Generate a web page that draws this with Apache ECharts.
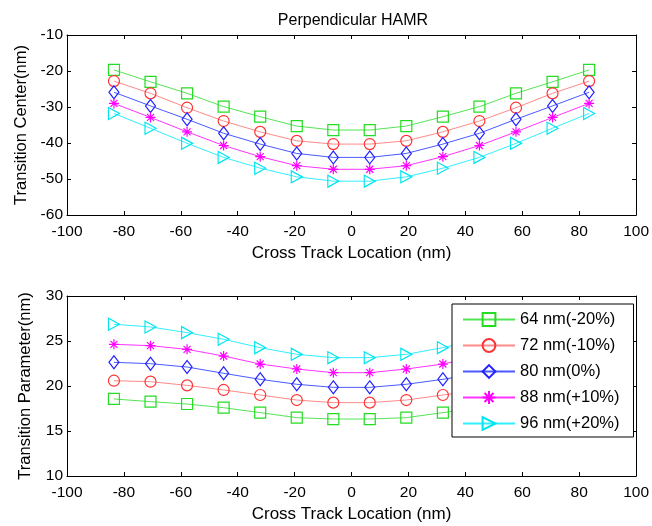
<!DOCTYPE html>
<html><head><meta charset="utf-8">
<script src="https://cdn.jsdelivr.net/npm/echarts@6/dist/echarts.min.js"></script>
<style>html,body{margin:0;padding:0;background:#fff}#c{width:652px;height:526px}</style>
</head><body><div id="c"></div>
<script>
const xs = [-83.5,-70.65,-57.8,-44.95,-32.1,-19.25,-6.4,6.4,19.25,32.1,44.95,57.8,70.65,83.5];
const names = ['64 nm(-20%)','72 nm(-10%)','80 nm(0%)','88 nm(+10%)','96 nm(+20%)'];
const center64 = [-19.7,-23.0,-26.2,-29.9,-32.7,-35.3,-36.4,-36.4,-35.3,-32.7,-29.9,-26.2,-23.0,-19.7];
const center72 = [-22.8,-26.2,-30.2,-33.9,-36.9,-39.4,-40.3,-40.3,-39.4,-36.9,-33.9,-30.2,-26.2,-22.8];
const center80 = [-25.9,-29.7,-33.4,-37.3,-40.3,-42.9,-44.0,-44.0,-42.9,-40.3,-37.3,-33.4,-29.7,-25.9];
const center88 = [-29.0,-32.9,-36.9,-40.7,-43.8,-46.3,-47.3,-47.3,-46.3,-43.8,-40.7,-36.9,-32.9,-29.0];
const center96 = [-31.8,-35.9,-40.1,-44.0,-47.0,-49.4,-50.6,-50.6,-49.4,-47.0,-44.0,-40.1,-35.9,-31.8];
const param64 = [18.56,18.26,18.0,17.59,17.04,16.48,16.33,16.33,16.48,17.04,17.59,18.0,18.26,18.56];
const param72 = [20.59,20.48,20.07,19.56,19.0,18.44,18.15,18.15,18.44,19.0,19.56,20.07,20.48,20.59];
const param80 = [22.63,22.48,22.11,21.41,20.74,20.19,19.85,19.85,20.19,20.74,21.41,22.11,22.48,22.63];
const param88 = [24.63,24.48,24.07,23.33,22.44,21.89,21.48,21.48,21.89,22.44,23.33,24.07,24.48,24.63];
const param96 = [26.86,26.56,25.93,25.19,24.26,23.52,23.15,23.15,23.52,24.26,25.19,25.93,26.56,26.86];

const colors = ['#22dd22','#ff3333','#2222ff','#ff00ff','#00e5ee'];
const lineColors = ['#55e455','#ff8a8a','#4a5aff','#ff33ff','#33eeff'];
const asterisk = 'path://M5,0L5,10M0,5L10,5M1.5,1.5L8.5,8.5M8.5,1.5L1.5,8.5';
const symbols = ['rect','circle','diamond',asterisk,'triangle'];
const symSizes = [11,11,[10,13],10,[12,11]];
const symRot = [0,0,0,0,-90];
const topData = [center64,center72,center80,center88,center96];
const botData = [param64,param72,param80,param88,param96];

const font = 'Liberation Sans, Arial, sans-serif';
function xAxes(gi){
  return [
    {type:'value',gridIndex:gi,min:-100,max:100,interval:20,
     axisLine:{show:true,onZero:false,lineStyle:{color:'#000',width:1}},
     axisTick:{inside:true,length:4,lineStyle:{color:'#000'}},
     axisLabel:{color:'#000',fontSize:15.5,fontFamily:font,margin:9},
     splitLine:{show:false},
     name:'Cross Track Location (nm)',nameLocation:'middle',nameGap:30,
     nameTextStyle:{color:'#000',fontSize:17,fontFamily:font}},
    {type:'value',gridIndex:gi,position:'top',min:-100,max:100,interval:20,
     axisLine:{show:true,onZero:false,lineStyle:{color:'#000'}},
     axisTick:{inside:true,length:4,lineStyle:{color:'#000'}},
     axisLabel:{show:false},splitLine:{show:false}}
  ];
}
function yAxes(gi,min,max,interval,name){
  return [
    {type:'value',gridIndex:gi,min:min,max:max,interval:interval,
     axisLine:{show:true,onZero:false,lineStyle:{color:'#000'}},
     axisTick:{inside:true,length:4,lineStyle:{color:'#000'}},
     axisLabel:{color:'#000',fontSize:15.5,fontFamily:font,margin:4},
     splitLine:{show:false},
     name:name,nameLocation:'middle',nameGap:33,
     nameTextStyle:{color:'#000',fontSize:16.5,fontFamily:font}},
    {type:'value',gridIndex:gi,position:'right',min:min,max:max,interval:interval,
     axisLine:{show:true,onZero:false,lineStyle:{color:'#000'}},
     axisTick:{inside:true,length:4,lineStyle:{color:'#000'}},
     axisLabel:{show:false},splitLine:{show:false}}
  ];
}
const series = [];
[topData,botData].forEach((set,gi)=>{
  set.forEach((vals,i)=>{
    series.push({
      type:'line',name:names[i],xAxisIndex:gi*2,yAxisIndex:gi*2,
      data:xs.map((x,k)=>[x,vals[k]]),
      symbol:symbols[i],symbolSize:symSizes[i],symbolRotate:symRot[i],
      showAllSymbol:true,
      lineStyle:{color:lineColors[i],width:1},
      itemStyle:{color:'rgba(255,255,255,0)',borderColor:colors[i],borderWidth:1.2},
      emphasis:{disabled:true},animation:false,z:2+i
    });
  });
});
const chart = echarts.init(document.getElementById('c'),null,{renderer:'canvas'});
chart.setOption({
  backgroundColor:'#fff',
  animation:false,
  title:{text:'Perpendicular HAMR',left:348,top:8,textAlign:'center',
    textStyle:{color:'#000',fontSize:16,fontWeight:'normal',fontFamily:font}},
  grid:[
    {left:67,right:15,top:35,height:180,show:false},
    {left:67,right:15,top:296,height:180,show:false}
  ],
  xAxis:[...xAxes(0),...xAxes(1)],
  yAxis:[...yAxes(0,-60,-10,10,'Transition Center(nm)'),...yAxes(1,10,30,5,'Transition Parameter(nm)')],
  legend:{
    data:names,
    orient:'vertical',left:452,top:304,
    padding:[7,14,5,10],itemGap:9,itemWidth:52,itemHeight:16,
    symbolRotate:'inherit',
    backgroundColor:'#fff',borderColor:'#000',borderWidth:1,
    textStyle:{color:'#000',fontSize:16.5,fontFamily:font},
    selectedMode:false,z:20
  },
  series:series
});
</script></body></html>
